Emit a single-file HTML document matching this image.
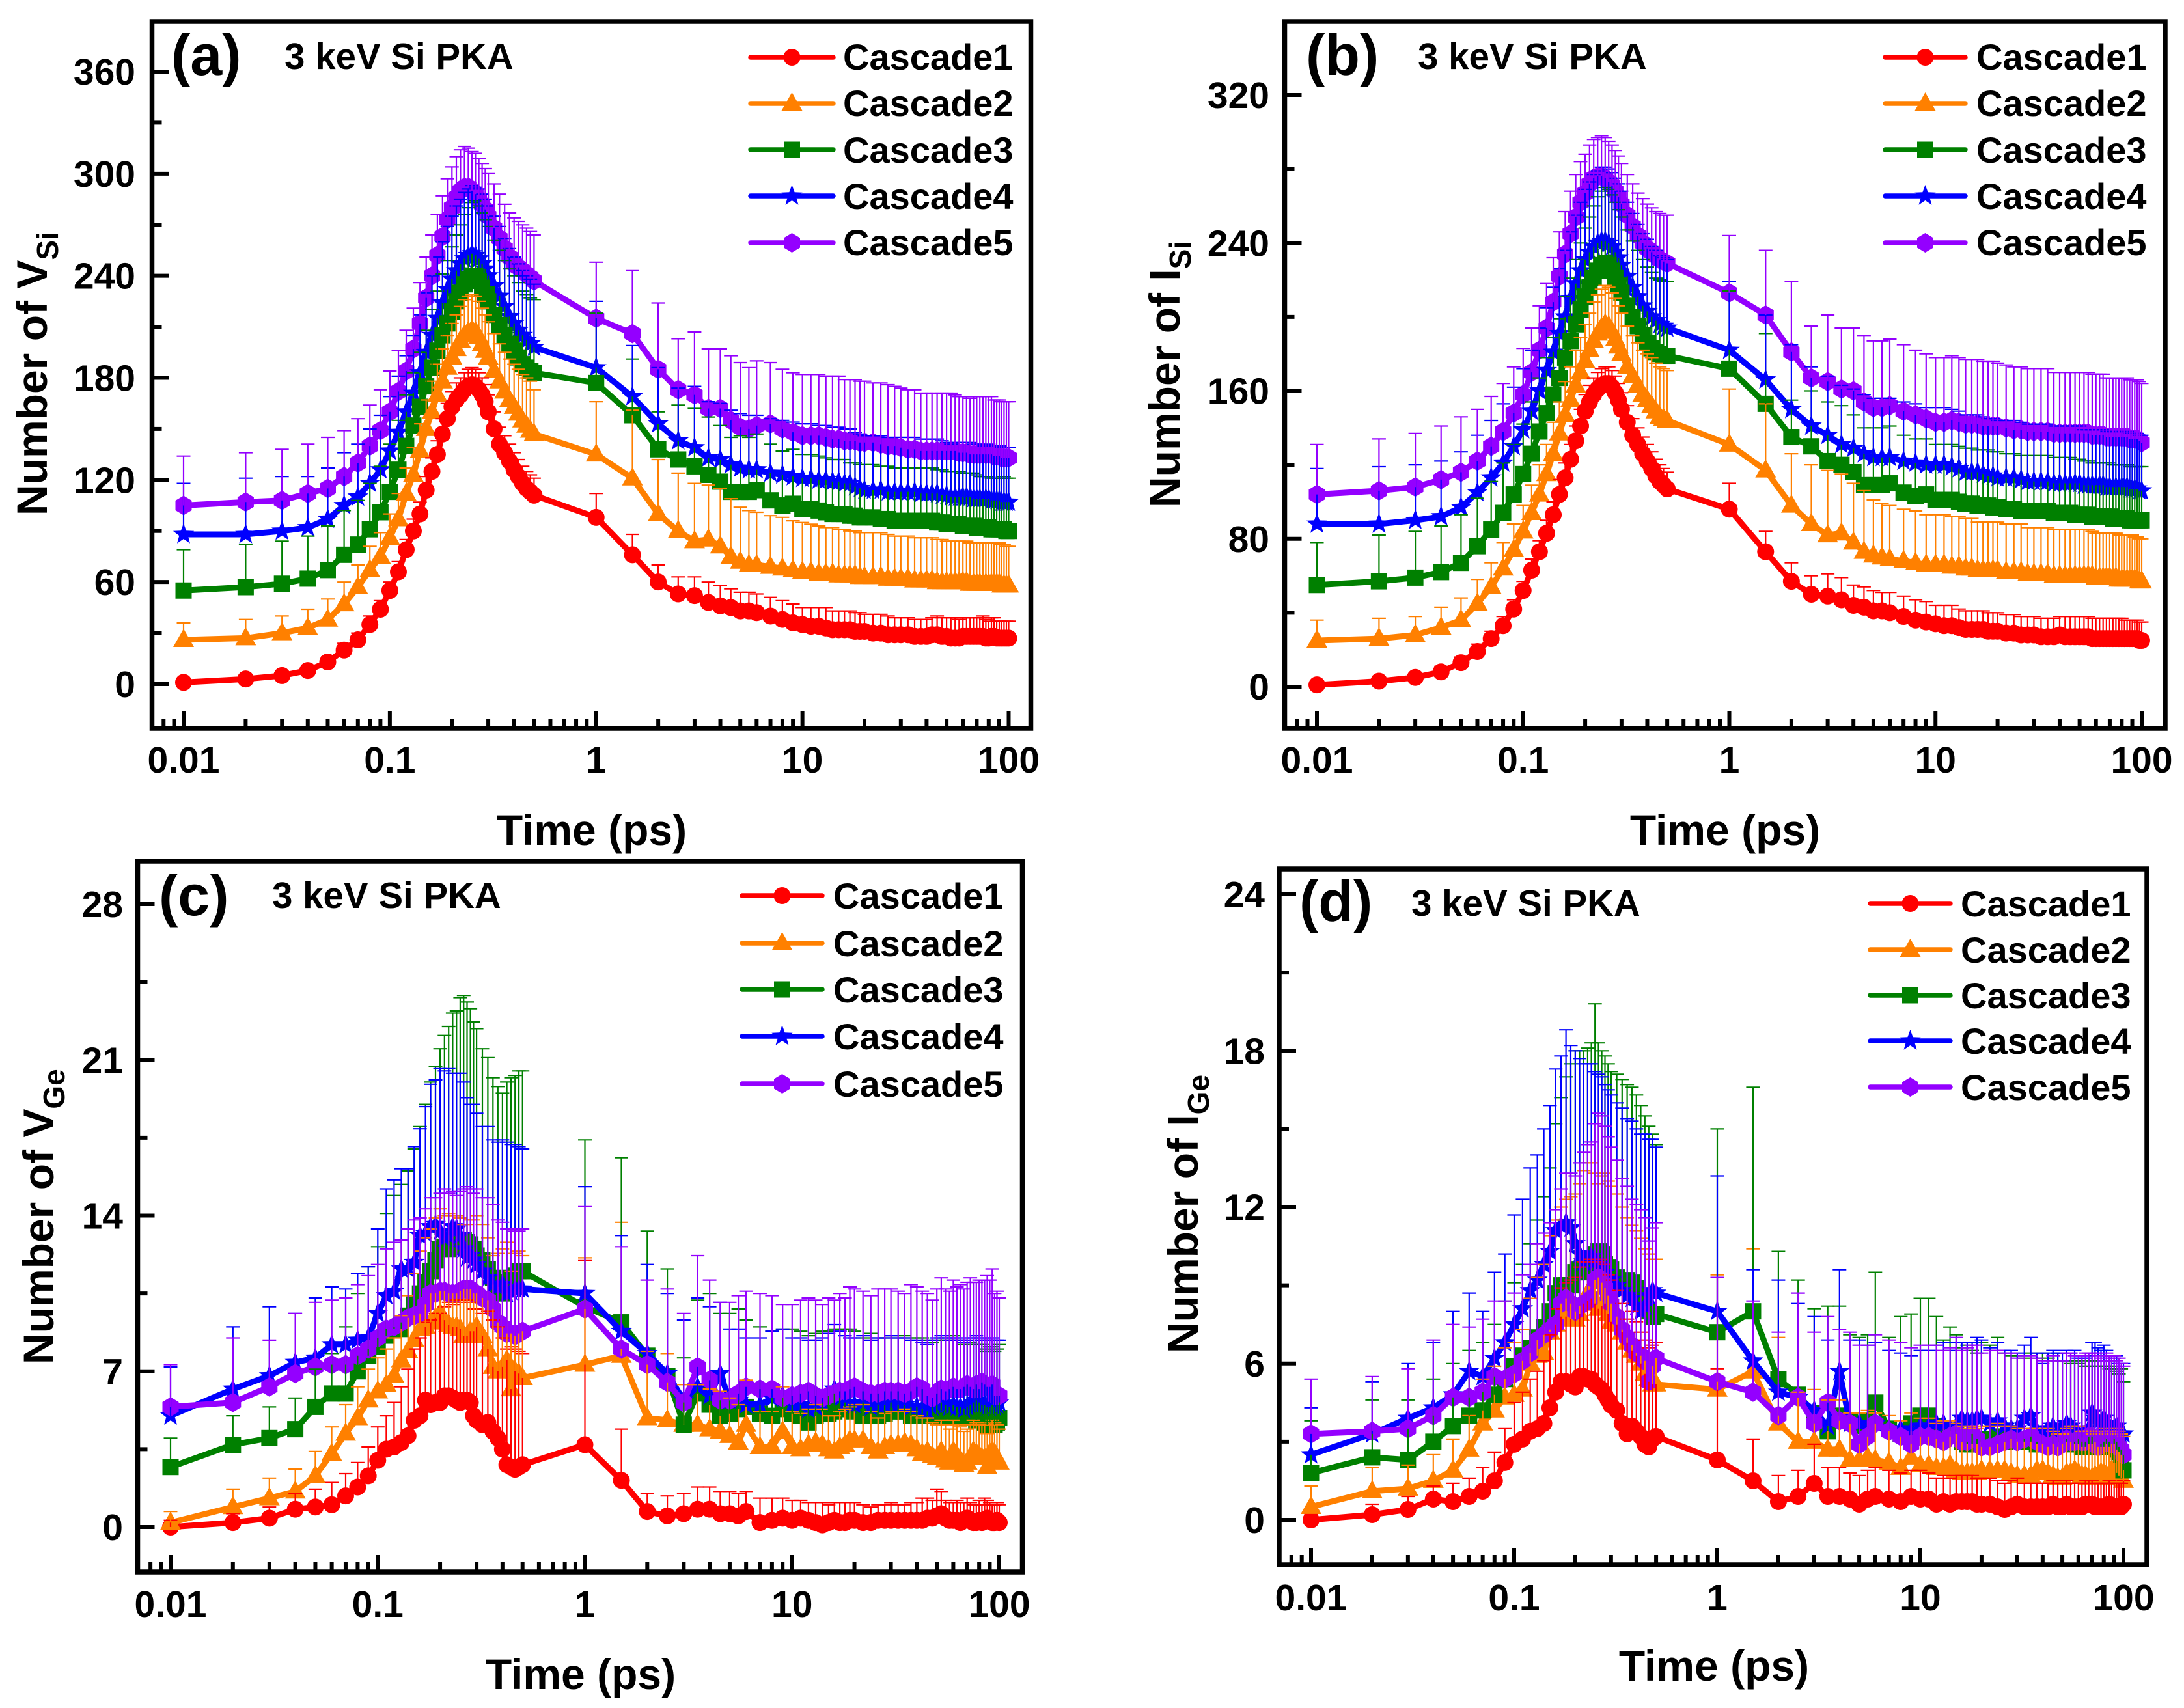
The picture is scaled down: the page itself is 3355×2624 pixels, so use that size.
<!DOCTYPE html>
<html lang="en">
<head>
<meta charset="utf-8">
<title>Number of defects vs time, 3 keV Si PKA</title>
<style>
html,body{margin:0;padding:0;background:#fff;}
svg{display:block;}
text{font-family:"Liberation Sans",Arial,sans-serif;font-weight:bold;fill:#000;}
.tick{font-size:57px;}
.axt{font-size:66px;}
.sub{font-size:46px;}
.plabel{font-size:88px;}
.note{font-size:56.5px;}
.leg{font-size:56px;}
</style>
</head>
<body>
<svg id="figure" xmlns="http://www.w3.org/2000/svg" width="3355" height="2624" viewBox="0 0 3355 2624">
<rect x="0" y="0" width="3355" height="2624" fill="#fff"/>

<g id="panel-a">
<g class="plot"></g>
<text class="plabel" x="263" y="115">(a)</text>
<text class="note" x="437" y="106">3 keV Si PKA</text>
<text class="axt" x="909" y="1298" text-anchor="middle">Time (ps)</text>
<text class="axt" transform="translate(72,792) rotate(-90)">Number of V<tspan class="sub" dy="17">Si</tspan></text>
<text class="leg" x="1295" y="107">Cascade1</text>
<text class="leg" x="1295" y="178">Cascade2</text>
<text class="leg" x="1295" y="250">Cascade3</text>
<text class="leg" x="1295" y="321">Cascade4</text>
<text class="leg" x="1295" y="392">Cascade5</text>
</g>

<g id="panel-b">
<g class="plot"></g>
<text class="plabel" x="2006" y="115">(b)</text>
<text class="note" x="2178" y="106">3 keV Si PKA</text>
<text class="axt" x="2650" y="1298" text-anchor="middle">Time (ps)</text>
<text class="axt" transform="translate(1812,780) rotate(-90)">Number of I<tspan class="sub" dy="17">Si</tspan></text>
<text class="leg" x="3036" y="107">Cascade1</text>
<text class="leg" x="3036" y="178">Cascade2</text>
<text class="leg" x="3036" y="250">Cascade3</text>
<text class="leg" x="3036" y="321">Cascade4</text>
<text class="leg" x="3036" y="392">Cascade5</text>
</g>

<g id="panel-c">
<g class="plot"></g>
<text class="plabel" x="244" y="1406">(c)</text>
<text class="note" x="418" y="1395">3 keV Si PKA</text>
<text class="axt" x="892" y="2595" text-anchor="middle">Time (ps)</text>
<text class="axt" transform="translate(82,2096) rotate(-90)">Number of V<tspan class="sub" dy="17">Ge</tspan></text>
<text class="leg" x="1280" y="1396">Cascade1</text>
<text class="leg" x="1280" y="1469">Cascade2</text>
<text class="leg" x="1280" y="1540">Cascade3</text>
<text class="leg" x="1280" y="1612">Cascade4</text>
<text class="leg" x="1280" y="1685">Cascade5</text>
</g>

<g id="panel-d">
<g class="plot"></g>
<text class="plabel" x="1996" y="1415">(d)</text>
<text class="note" x="2168" y="1407">3 keV Si PKA</text>
<text class="axt" x="2633" y="2582" text-anchor="middle">Time (ps)</text>
<text class="axt" transform="translate(1840,2079) rotate(-90)">Number of I<tspan class="sub" dy="17">Ge</tspan></text>
<text class="leg" x="3012" y="1408">Cascade1</text>
<text class="leg" x="3012" y="1479">Cascade2</text>
<text class="leg" x="3012" y="1549">Cascade3</text>
<text class="leg" x="3012" y="1619">Cascade4</text>
<text class="leg" x="3012" y="1690">Cascade5</text>
</g>
</svg>

<script>
// ---------- shared x data and tick labels ----------
const timeValues=[0.01,0.02,0.03,0.04,0.05,0.06,0.07,0.08,0.09,
0.10,0.11,0.12,0.13,0.14,0.15,0.16,0.17,0.18,0.19,0.20,0.21,0.22,0.23,0.24,0.25,0.26,0.27,0.28,0.29,0.30,
0.32,0.34,0.36,0.38,0.40,0.42,0.44,0.46,0.48,0.50,
1,1.5,2,2.5,3,3.5,4,4.5,5,5.5,
6,7,8,9,10,
11,12,13,14,15,16,17,18,19,20,
22,24,26,28,30,
32.5,35,37.5,40,42.5,45,47.5,50,52.5,55,57.5,60,62.5,65,67.5,70,72.5,75,77.5,80,82.5,85,87.5,90,92.5,95,97.5,100];
const xTickValues=[0.01,0.1,1,10,100];
const xTickLabels=['0.01','0.1','1','10','100'];
const xMinorValues=[0.008,0.009,0.02,0.03,0.04,0.05,0.06,0.07,0.08,0.09,0.2,0.3,0.4,0.5,0.6,0.7,0.8,0.9,2,3,4,5,6,7,8,9,20,30,40,50,60,70,80,90];

// ---------- panel (a) ----------
const aYTicks=[0,60,120,180,240,300,360];
const aYMinor=[30,90,150,210,270,330];
const aCascade1=[1,3,5,8,13,20,26,35,44,
55,66,79,90,100,114,125,135,147,156,163,167,170,173,175,176,175,173,170,166,160,
150,141,136,131,126,122,118,115,113,111,
98,76,60,53,52,48,46,45,43,43,
42,40,38,36,35,
34,34,33,32,32,32,32,31,31,31,
30,30,29,29,29,
29,28,28,28,29,29,28,28,27,27,27,28,28,28,28,28,28,28,27,27,28,28,27,27,27,27,27,27];
const aCascade1Err=[1,2,2,3,3,4,4,5,5,
5,6,6,7,7,8,8,8,9,9,9,10,10,10,10,10,10,10,10,10,10,
10,10,10,10,10,10,10,10,10,10,
14,12,10,10,11,12,12,11,11,11,
11,11,11,11,10,
11,11,12,11,11,11,11,11,11,10,
11,11,11,10,10,
10,10,10,10,10,11,11,11,12,12,11,11,11,11,11,11,11,12,11,10,11,11,10,10,10,10,10,10];
const aCascade2=[26,27,30,33,38,47,57,67,75,
86,97,112,123,137,150,160,170,178,186,192,197,202,205,207,208,207,204,200,196,192,
184,178,172,167,163,159,155,152,149,147,
135,121,100,90,84,85,81,75,72,70,
70,69,68,67,66,
66,65,65,65,64,64,64,64,63,63,
63,63,62,62,62,
62,61,61,61,61,60,60,60,60,60,60,60,60,59,59,59,59,59,59,59,59,59,59,59,58,58,58,58];
const aCascade2Err=[10,11,10,11,12,13,13,14,14,
14,15,15,16,16,17,18,18,19,19,20,20,20,21,21,21,21,21,21,21,21,
22,22,23,24,25,26,27,28,29,26,
31,40,32,34,34,32,34,34,32,32,
31,30,30,29,29,
28,28,27,27,27,27,26,26,26,26,
26,26,26,25,25,
25,25,25,25,25,25,25,24,24,24,24,24,24,24,24,24,24,24,24,24,24,24,24,24,24,24,23,23];
const aCascade3=[55,57,59,62,67,76,82,91,101,
113,126,140,152,163,175,186,196,205,212,219,225,230,235,238,240,240,237,233,229,225,
217,211,205,200,196,192,188,186,184,183,
177,158,138,132,128,123,119,113,113,113,
114,108,105,106,103,
103,102,101,100,100,100,99,99,98,98,
98,97,97,96,96,
96,96,96,96,96,95,95,94,94,94,94,93,93,93,93,92,92,92,92,92,91,91,91,91,91,91,90,90];
const aCascade3Err=[24,25,25,25,26,26,26,27,27,
28,29,30,31,32,33,34,35,36,37,38,39,40,41,42,43,44,44,44,44,44,
44,44,44,44,44,44,43,43,43,43,
41,33,22,32,34,34,33,32,33,32,
33,33,32,32,32,
32,32,32,32,32,32,31,31,31,31,
31,31,31,31,31,
31,31,31,31,31,31,31,31,31,31,31,31,31,31,31,31,30,30,30,30,30,30,30,30,30,31,31,31];
const aCascade4=[88,88,90,92,97,105,110,118,126,
137,148,160,171,183,195,205,215,224,232,238,243,247,250,252,253,252,250,247,244,240,
234,228,222,216,212,208,205,202,200,198,
186,169,153,143,139,133,132,129,127,126,
126,124,123,122,121,
121,120,120,119,119,118,118,116,115,114,
114,114,113,113,113,
113,113,112,112,112,112,111,111,110,110,110,110,110,110,109,109,109,109,109,109,108,108,108,108,107,107,107,107];
const aCascade4Err=[30,33,32,30,30,31,31,32,32,
32,33,33,34,34,35,35,36,36,37,37,38,38,39,39,40,40,41,41,41,41,
41,41,40,40,39,39,38,38,38,37,
39,30,33,31,36,33,33,32,32,32,
32,32,32,32,32,
32,32,32,32,32,32,32,32,32,32,
32,32,32,32,32,
32,32,32,32,32,32,32,31,31,32,32,32,32,32,32,32,32,31,31,32,32,32,32,32,32,32,32,32];
const aCascade5=[105,107,108,112,115,122,130,140,149,
160,172,184,197,212,227,240,252,263,273,280,286,290,292,292,290,288,285,282,279,275,
268,262,256,251,247,245,243,241,239,237,
215,206,185,173,170,162,162,155,151,150,
152,153,150,148,146,
146,146,145,144,144,143,143,143,142,142,
142,141,140,140,139,
138,138,137,137,137,137,137,137,137,137,136,136,136,135,135,135,135,135,135,135,135,134,134,134,133,133,133,133];
const aCascade5Err=[29,29,30,29,30,27,26,24,24,
24,24,24,24,24,24,24,24,24,24,24,24,24,24,23,23,24,24,24,24,25,
26,26,26,26,27,27,27,27,27,27,
33,37,39,30,37,35,35,38,38,36,
38,36,35,35,36,
36,36,36,37,37,36,36,36,36,36,
35,36,36,35,35,
35,35,34,34,34,34,34,34,34,33,33,33,33,33,34,34,34,34,34,34,34,33,33,33,33,33,33,33];

// ---------- panel (b) ----------
const bYTicks=[0,80,160,240,320];
const bYMinor=[40,120,200,280];
const bCascade1=[1,3,5,8,13,19,26,33,42,
52,63,73,83,93,104,113,123,133,141,149,154,158,161,163,164,164,162,159,155,150,
143,136,131,126,122,118,114,111,109,107,
96,73,57,50,49,47,44,43,41,41,
40,38,36,35,34,
33,33,32,31,31,31,31,30,30,30,
29,29,28,28,28,
27,27,27,28,27,27,27,27,27,27,26,26,26,26,26,26,26,26,26,26,26,26,26,26,26,26,25,25];
const bCascade1Err=[1,2,2,3,3,4,4,5,5,
5,6,6,7,7,8,8,8,8,9,9,9,9,9,9,9,9,9,9,9,9,
9,9,9,9,9,9,9,9,9,9,
14,11,10,10,12,12,11,11,11,10,
11,11,11,11,10,
11,11,10,10,10,10,10,10,10,10,
10,10,10,10,10,
10,10,10,10,11,11,11,11,11,11,11,11,11,11,11,11,11,11,11,11,10,10,10,10,10,10,10,10];
const bCascade2=[25,26,28,32,36,45,54,64,74,
84,94,104,115,126,137,147,155,163,170,176,182,187,191,194,196,195,192,188,184,180,
173,168,163,158,155,152,149,146,145,144,
131,117,98,88,82,83,78,73,71,70,
69,68,67,66,66,
66,65,65,64,64,63,63,63,63,63,
62,62,62,61,61,
61,61,60,60,60,60,60,60,60,60,60,59,59,59,59,59,59,59,58,58,58,58,58,58,58,58,57,57];
const bCascade2Err=[11,11,10,11,12,13,13,14,14,
14,15,16,16,17,17,18,18,19,19,20,20,21,21,21,21,21,21,22,22,22,
22,22,23,24,25,26,26,27,27,27,
30,36,28,32,35,32,32,33,30,29,
29,28,28,27,27,
27,27,27,27,27,26,26,26,26,26,
26,26,26,25,25,
25,25,25,25,25,25,25,25,25,25,24,24,24,24,24,24,24,24,24,24,24,24,24,24,23,23,23,23];
const bCascade3=[55,57,59,62,67,76,85,94,104,
115,126,138,148,158,167,178,187,196,204,211,216,221,225,228,229,228,225,221,217,213,
206,200,195,190,186,183,181,180,179,179,
172,153,135,130,122,120,116,109,109,109,
110,105,103,104,101,
101,101,100,99,99,98,98,98,97,97,
96,96,95,95,95,
95,95,94,94,94,94,93,93,93,93,92,92,92,92,92,92,91,91,91,91,91,91,90,90,90,90,90,90];
const bCascade3Err=[23,25,25,25,26,26,26,27,27,
27,28,29,30,31,32,33,34,35,36,37,38,39,40,40,41,41,41,41,41,41,
41,41,41,41,41,41,40,40,40,40,
42,38,20,30,32,32,31,31,31,31,
31,31,31,30,30,
30,30,30,30,30,30,30,30,30,30,
30,30,30,30,30,
30,30,30,30,30,30,30,30,29,29,29,29,29,29,29,29,29,29,29,29,29,29,29,29,29,29,29,29];
const bCascade4=[88,88,90,92,97,105,113,121,130,
139,149,160,171,181,191,200,210,218,225,231,235,238,240,241,241,240,238,235,232,228,
222,216,211,206,203,200,198,196,195,194,
182,166,150,141,136,131,129,126,124,124,
124,122,121,120,120,
120,119,118,116,116,116,115,114,114,113,
113,113,112,111,111,
111,111,110,110,110,110,110,110,109,109,109,109,109,109,108,108,108,108,108,108,108,108,107,107,107,107,106,106];
const bCascade4Err=[30,31,30,30,30,31,31,32,32,
33,33,34,34,35,35,36,36,37,37,38,38,39,39,40,40,40,40,40,40,40,
40,40,39,39,39,38,38,37,37,37,
37,35,35,32,32,32,32,32,32,32,
32,32,32,31,31,
31,31,31,31,31,31,31,31,31,31,
31,31,31,31,31,
31,31,31,31,31,31,31,31,30,30,30,30,30,30,30,30,30,30,30,30,30,30,30,30,30,30,30,30];
const bCascade5=[104,106,108,112,116,122,130,138,148,
158,170,182,194,208,222,234,245,254,262,267,272,275,276,276,275,273,271,268,265,261,
255,249,244,240,237,235,233,231,230,229,
213,201,181,167,165,161,160,154,151,151,
152,149,147,145,143,
143,144,143,142,142,142,141,141,141,141,
140,139,139,138,138,
138,138,137,137,137,137,137,137,137,137,136,136,136,136,135,135,135,135,135,135,135,135,134,134,134,134,133,132];
const bCascade5Err=[27,28,29,29,30,28,27,26,25,
25,24,24,24,24,24,23,23,23,22,21,21,21,21,22,22,22,22,22,22,22,
22,23,23,24,24,24,24,25,25,26,
31,35,38,28,36,33,34,36,36,36,
36,36,35,35,35,
35,35,35,35,35,35,35,35,35,34,
34,34,34,34,34,
34,34,33,33,33,33,33,33,33,33,33,33,33,33,32,32,32,32,32,32,32,32,32,32,32,32,32,32];

// ---------- panel (c) ----------
const cYTicks=[0,7,14,21,28];
const cYMinor=[3.5,10.5,17.5,24.5];
const cCascade1=[0,0.2,0.4,0.8,0.9,1,1.4,1.8,2.3,
3,3.5,3.6,3.8,4.1,4.8,5,5.7,5.5,5.6,5.6,5.9,5.9,5.8,5.7,5.6,5.7,5.7,5.6,5,4.8,
4.6,4.7,4.3,4,3.5,2.8,2.7,2.6,2.7,2.8,
3.7,2.1,0.7,0.5,0.6,0.8,0.8,0.6,0.6,0.5,
0.7,0.2,0.3,0.4,0.3,
0.4,0.3,0.2,0.1,0.2,0.3,0.2,0.2,0.3,0.3,
0.2,0.2,0.3,0.3,0.3,
0.3,0.3,0.3,0.3,0.3,0.4,0.4,0.5,0.6,0.4,0.3,0.3,0.3,0.2,0.3,0.4,0.3,0.2,0.2,0.3,0.2,0.3,0.4,0.3,0.2,0.2,0.3,0.2];
const cCascade1Err=[0.3,0.4,0.5,0.7,0.8,1,1,1.1,1.3,
1.5,1.5,2,2.5,3,3.2,3.5,3.5,3.8,4,4,4,4.2,4.2,4.5,4.5,4.5,4.5,4.5,4.8,5,
5,5,5,5,5,5.2,5.4,5.4,5.2,5,
8.3,2.3,0.8,0.9,0.9,1,1,1,1,1,
0.9,1.1,1,0.9,0.9,
0.8,0.8,0.9,1,0.8,0.8,0.9,0.9,0.8,0.8,
0.8,0.7,0.7,0.7,0.8,
0.7,0.7,0.8,0.8,1,0.9,0.8,1.2,1,0.8,0.8,0.8,0.9,0.9,0.8,0.9,0.8,0.8,0.8,0.9,0.8,1,0.8,0.8,0.8,0.8,0.8,0.8];
const cCascade2=[0.2,0.9,1.3,1.6,2.3,3.3,4.2,4.9,5.7,
6.1,6.4,6.8,7.5,7.9,8.4,8.9,9,9.2,9.4,9.6,9.3,9.1,9,9,8.9,8.6,8.6,8.8,8.8,9,
8.6,8,7.2,7,7.2,7.5,6.2,7,6.9,6.7,
7.3,7.7,4.9,4.8,4.6,4.6,4.4,4.3,4.1,3.8,
4.6,3.6,3.6,4.3,3.6,
3.5,3.7,3.8,3.7,3.5,3.4,3.6,3.7,3.9,3.9,
3.9,3.6,3.4,3.6,3.7,
3.7,3.8,3.7,3.5,3.3,3.4,3.2,3.1,3.4,3,2.9,3.4,3.2,3,2.8,2.9,3.1,3.4,3.3,3.2,3.1,3.1,2.7,3.3,3.4,3.3,3.1,2.9];
const cCascade2Err=[0.5,0.8,0.9,1,1.1,1.2,1.3,1.4,1.4,
1.5,1.6,1.7,2,2.5,3,3.5,4,4.2,4.5,4.7,4.7,5,5,5,5,5,5,5,5,5,
5,5,5,5.3,5.3,5.3,5.3,5.3,5.5,5.5,
4.8,6,3,3,1.8,1.8,1.8,1.8,1.7,1.7,
2,1.6,1.6,2,1.6,
1.6,1.6,1.7,1.6,1.5,1.6,1.6,1.6,1.5,1.6,
1.6,1.6,1.5,1.5,1.5,
1.5,1.5,1.5,1.5,1.6,1.5,1.5,1.5,1.4,1.6,1.5,1.4,1.4,1.5,1.5,1.5,1.5,1.4,1.4,1.4,1.5,1.5,1.5,1.4,1.4,1.4,1.5,1.5];
const cCascade3=[2.7,3.7,4,4.4,5.4,6,6,7,7.7,
8.1,8.6,8.9,8.9,9.5,10,10.5,11,11.5,12,12.5,12.6,12.5,12.6,12.7,12.8,12.9,12.8,12.7,12.5,12.2,
12,11.6,11.2,10.8,10.5,11,11.2,11.3,11.5,11.5,
9.9,9.2,7.7,6.8,4.6,6,5.5,5,5.1,5.3,
5.4,5.1,5,5.3,5.1,
5,4.7,5,5.2,5.1,5.2,5.3,5.4,5.3,5.2,
5,5.1,5,5.1,5.2,
5.2,5.2,5,5,5.1,5,5,5.1,5.2,5.1,5,5.2,5.1,5.1,5,4.9,5,4.9,4.8,4.9,4.8,4.7,4.6,4.7,4.8,4.6,4.7,4.9];
const cCascade3Err=[1.3,1.3,1.4,1.4,1.7,1.8,3,3.5,4,
4.5,5.5,6,6.5,6.5,7,7.5,8,8.5,8.7,9,9.5,10,10.5,10.5,11,11,10.8,10.6,10.2,10.2,
9.5,9.5,9,9,9,9,9,9,9,9,
7.5,7.4,5.6,4.8,3,4.2,5,4.6,4.5,4.5,
3.9,3.9,3.8,3.6,3.8,
3.8,3.9,3.7,3.6,3.7,3.7,3.6,3.5,3.6,3.6,
3.5,3.6,3.5,3.4,3.4,
3.3,3.4,3.5,3.5,3.4,3.4,3.3,3.3,3.3,3.3,3.4,3.4,3.3,3.3,3.2,3.3,3.3,3.3,3.4,3.3,3.4,3.3,3.3,3.4,3.3,3.3,3.3,3.3];
const cCascade4=[5,6.2,6.8,7.4,7.6,8.2,8.2,8.4,8.5,
9.6,10.4,10.6,11.6,11.6,11.9,13.1,13.2,13.5,13.6,13.3,13,13.1,13.5,13.4,13.1,12.5,12.1,12.2,12,11.8,
11.5,11.2,10.9,10.8,10.9,10.5,10.6,10.7,10.7,10.7,
10.5,8.8,7.8,6.9,5.7,6.3,5.9,6.9,5.7,5.7,
5.5,5.5,5.8,5.9,5.5,
5.5,5.3,5.4,5.6,5.9,6.2,5.8,5.6,5.5,5.5,
5.6,5.4,5.5,5.5,5.6,
5.5,5.5,5.4,5.4,5.3,5.2,5.4,5.5,5.6,5.5,5.4,5.5,5.4,5.4,5.3,5.4,5.5,5.6,5.7,5.6,5.5,5.5,5.4,5.4,5.5,5.4,5.5,5.6];
const cCascade4Err=[2.2,2.8,3.1,2.2,2.7,2.6,2.5,3,3.2,
3.8,4.8,5,4.5,4.5,5.2,4.8,5.7,6.4,6.5,7.3,7.5,7.5,6.9,7,7.3,7.5,7.2,6.8,7,6.8,
6.5,6.8,6.5,6.5,6.5,6.8,6.6,6.5,6.4,6.3,
4.8,4.3,4,3.6,3.6,4,4,3.2,3.2,3.2,
3,3,3,3,3,
3,3.1,3,2.9,2.8,2.9,3,3,3,3,
3,3,3,3,3,
3,3,3,3,3,3,3,3,3,3,3,3,3.1,3,3,3,3,2.9,2.9,2.9,2.9,3,3,3,3,3,2.9,2.8];
const cCascade5=[5.4,5.6,6.3,6.9,7.2,7.3,7.3,7.7,8,
8.5,8.9,9,9.2,9.4,9.5,9.6,10,10.5,10.5,10.6,10.6,10.5,10.5,10.5,10.6,10.7,10.7,10.7,10.5,10.5,
10.3,10.2,9.8,9.2,9,8.7,8.7,8.6,8.7,8.8,
9.8,8,7.3,6.5,5.6,7.2,6.6,5.7,5.7,6,
6.3,6.2,6.2,5.8,5.9,
6,6.1,5.9,5.8,5.9,6,6.1,6.1,6.2,6.3,
6.1,6,6,6.1,6.1,
6.1,6,6.1,6.3,6.2,5.9,5.8,6,6.2,6.1,6.2,6.3,6.2,6.2,6.3,6.4,6.3,6.2,6.4,6.2,6.5,6.4,6.3,6.3,6.4,5.9,5.9,5.9];
const cCascade5Err=[1.9,2.9,2.1,2.7,2.9,2.9,3,3.2,3.3,
3.3,3.6,3.8,3.7,4,4.3,4.3,4.3,4.3,4.3,4.4,4.6,4.5,4.6,4.4,4.5,4.5,4.6,4.5,4.5,4.7,
4.5,4.6,4.7,4.6,4.7,4.7,4.7,4.7,4.6,4.6,
4.6,4.6,3.8,4.2,4,5,4.5,4.4,4.4,4.4,
4.3,4.3,4.2,4.2,4.1,
4.2,4.2,4.3,4.2,4.4,4.2,4.4,4.2,4.6,4.4,
4.5,4.4,4.7,4.6,4.6,
4.5,4.5,4.8,4.5,4.4,4.6,4.4,4.7,5,4.6,4.4,4.8,4.6,4.7,4.4,4.6,4.9,4.8,4.6,4.9,4.6,4.7,5,4.8,5.2,4.6,4.7,4.4];

// ---------- panel (d) ----------
const dYTicks=[0,6,12,18,24];
const dYMinor=[3,9,15,21];
const dCascade1=[0,0.2,0.4,0.8,0.7,0.9,1.1,1.5,2.2,
2.9,3.1,3.4,3.5,3.7,4.3,4.9,5.3,5.3,5.2,5.1,5.5,5.5,5.4,5.4,5.2,5.1,5,4.8,4.6,4.4,
4.2,3.7,3.3,3.6,3.4,3.2,2.9,2.8,3.1,3.2,
2.3,1.5,0.7,0.9,1.4,0.9,0.9,0.8,0.6,0.8,
0.9,0.8,0.7,0.9,0.8,
0.8,0.6,0.7,0.6,0.7,0.7,0.7,0.7,0.6,0.6,
0.6,0.5,0.4,0.5,0.6,
0.5,0.5,0.5,0.5,0.5,0.6,0.5,0.5,0.6,0.5,0.5,0.5,0.5,0.6,0.6,0.6,0.5,0.5,0.5,0.5,0.5,0.6,0.5,0.5,0.5,0.5,0.5,0.6];
const dCascade1Err=[0.2,0.4,0.5,0.5,0.7,0.7,0.9,1.1,1.3,
1.6,1.8,2,2.2,2.4,2.8,3.2,3.6,3.8,4,4.2,4.2,4.4,4.5,4.6,4.8,4.8,5,5,4.8,4.8,
4.6,4.6,4.4,4.4,4.2,4,4,3.8,3.6,3.6,
3.5,1.6,1,1,1.5,1.1,1.1,1,1.1,1.1,
1.1,1.1,1.1,1,1.1,
1,1,1,1,1,1,1,1,1,1,
1,1,1,1,1,
0.9,0.9,0.9,0.9,0.9,0.9,0.9,0.9,0.9,0.9,0.9,0.9,0.9,0.9,0.9,0.9,0.9,0.9,0.9,0.9,0.9,0.9,0.9,0.9,0.9,0.9,0.9,0.9];
const dCascade2=[0.5,1.1,1.2,1.5,1.9,2.7,3.7,4.2,4.7,
4.8,5,6,6.3,6.4,7.2,7.5,7.8,7.8,7.7,7.7,7.9,8.4,8.7,8.7,8.3,8.1,8.2,8.3,7.9,7.6,
7.5,7.2,6.8,6.5,6.3,6,5.6,5.4,5.2,5.2,
5,5.7,3.7,3,3,2.7,2.7,2.3,2.3,2.4,
2.3,2.2,2,2.4,2.1,
2.1,2,2,2.1,1.9,1.8,1.8,1.8,1.8,1.9,
1.9,1.9,1.9,1.8,1.7,
1.7,1.7,1.9,1.9,1.8,1.7,1.6,1.6,1.8,1.8,1.9,1.8,1.7,1.7,1.6,1.6,1.7,1.7,1.8,1.8,1.7,1.6,1.9,1.9,1.8,1.7,1.6,1.5];
const dCascade2Err=[0.8,0.9,0.9,1,1.2,1.3,1.7,1.7,1.9,
2,2.3,2.5,3,3.4,3.7,4,4.2,4.5,4.7,4.8,5,5,5,5,5,4.8,5,5,5.1,5.2,
5,4.8,4.8,4.8,4.8,4.8,4.8,4.8,4.8,4.8,
4.4,4.7,3.3,1.9,2,1.9,1.9,1.8,1.8,1.8,
1.8,1.8,1.8,1.7,1.8,
1.8,1.7,1.8,1.7,1.8,1.8,1.7,1.8,1.7,1.7,
1.7,1.8,1.7,1.8,1.8,
1.8,1.8,1.6,1.6,1.7,1.7,1.7,1.7,1.7,1.8,1.7,1.8,1.7,1.7,1.8,1.7,1.6,1.7,1.6,1.7,1.6,1.7,1.5,1.6,1.7,1.7,1.7,1.7];
const dCascade3=[1.8,2.4,2.3,3,3.6,4,4.2,4.8,5.4,
5.9,6.3,6.6,7,7.4,8,8.7,9,9,9,9.5,9.6,9.5,9.7,9.9,10.2,10.3,10.2,9.8,9.7,9.6,
9.3,9.1,9.2,9.1,8.9,8.6,8.3,8,7.8,7.9,
7.2,8,5.4,4.8,4.1,3.4,4,3.8,3.6,3.8,
4.5,3.5,3.3,3.7,4,
4,3.6,3.4,3.4,3.3,3,2.9,2.9,2.9,3,
3.1,3.2,3,3.1,3.1,
3,3,2.9,2.9,3,2.9,3,3.1,3,3,2.9,2.9,2.8,2.8,2.9,2.9,3,2.9,2.8,2.8,2.9,2.8,2.9,2.9,2.7,2.6,2.5,1.9];
const dCascade3Err=[2,2.2,2.3,2.4,2.4,2.5,2.6,2.7,3,
3.2,3.5,4,4.5,5,5.5,6.5,7.2,8,8.5,8.5,8.4,8.5,8.4,8.4,9.6,8,7.8,8,7.8,7.6,
7.8,7.8,7.5,7.5,7.4,7.3,7.2,7.1,7,6.5,
7.8,8.6,4.9,4.4,4,4.8,4.2,3.3,3.4,3.3,
5,3.5,4.5,4.2,4.5,
4.5,4.2,3.5,4,3.8,3.6,3.8,3.6,3.5,3.8,
3.6,3.8,3.4,3.2,3.2,
3.2,3.4,3.3,3.5,3.2,3.2,3.4,3,3.1,3,3.2,3.1,3.3,3.1,3,3.2,3.1,3,3.1,3.3,3,3,3.2,3,3,3,3.3,3.4];
const dCascade4=[2.5,3.3,3.9,4.3,4.8,5.7,5.5,6.2,6.8,
7.5,8.1,8.8,9.2,9.8,10.3,11.1,11.3,11.4,11.2,10.6,10.2,9.9,10,10.1,9.9,9.8,9.7,9.5,9.3,9.2,
9,8.8,8.6,8.5,8.2,8,8.2,8.6,8.8,8.7,
8,6.1,4.9,4.7,4.2,3.6,5.7,3.7,3.7,3.5,
3.7,3.5,3.5,3.4,3.6,
3.6,3.7,3.7,3.5,3.6,3.9,3.8,3.8,3.9,3.9,
3.7,3.8,3.6,3.5,3.5,
3.9,4,3.4,3.2,3.5,3.6,3.4,3.5,3.7,3.6,3.4,3.3,3.2,3.3,3.5,4.1,3.9,3.8,3.6,3.9,3.7,3.6,3.5,3.4,3.6,3.3,3.2,3.3];
const dCascade4Err=[1.8,2,2.1,2.5,3.2,3,2.5,3.3,3.4,
4.2,4.2,4.7,4.8,5.2,5.6,6.2,6.5,7.4,7,7.4,7.5,7.6,7.5,7.4,7.3,7.3,7.3,7.2,7.2,7.1,
7,7,6.8,6.8,6.8,6.8,6.6,6,5.8,5.6,
5.2,3.5,4.3,3.6,3.6,3.3,3.9,3.2,3.2,3.2,
3.1,3,2.9,2.9,2.9,
2.9,3,3.1,3,3.2,2.9,3,3,3.1,3,
2.9,3,2.9,3,2.9,
2.8,3,3,2.8,2.9,2.9,3,2.9,2.8,2.8,3.1,2.9,3,2.9,2.8,2.7,2.9,2.8,2.9,2.8,2.8,2.7,2.8,2.8,2.7,2.7,2.8,2.7];
const dCascade5=[3.3,3.4,3.5,4,4.7,4.7,4.9,5.5,5.4,
5.6,6.1,6.4,6.9,7.1,7.3,7.5,8.3,8.5,8.3,8,8.2,8.3,8.4,8.5,9.2,9.3,9.1,8.9,8.6,8.3,
7.8,7.3,7,6.7,6.4,6.3,6.1,5.3,5.9,6.2,
5.3,4.9,4,4.7,3.7,4.5,3.8,3.7,2.9,3.2,
3.7,3.4,3.2,2.9,3.2,
3.2,3.1,3,3.2,3.3,3,3,3.3,3.1,2.8,
2.8,2.9,3,3.1,3,
3.1,3.2,3,2.9,2.8,2.9,2.8,2.9,3.1,3,3,3.1,3,3,3.2,3.2,3,2.8,2.9,3,3.1,3,2.9,3.1,3,2.8,2.7,2.5];
const dCascade5Err=[2.1,2.1,2.3,2.9,2.8,2.7,2.8,2.9,3,
3.1,3.3,3.4,3.7,3.9,4.1,4.4,4.4,4.8,5,5.2,5.5,5.8,6,6,6,6.3,6.4,6.2,6.1,6,
6,5.8,5.8,5.6,5.7,5.6,5.5,5.4,5.3,5.2,
4,3.5,3.2,4,3.5,3.3,3.5,3.5,3.8,3.5,
3.4,3.5,3.6,3.7,3.5,
3.5,3.6,3.5,3.4,3.7,3.5,3.6,3.4,3.6,3.6,
3.7,3.6,3.4,3.3,3.2,
3.2,3.1,3.2,3.2,3.3,3.4,3.3,3.2,3.3,3.4,3.3,3.2,3.3,3.4,3.2,3.2,3.4,3.5,3.3,3.1,3.3,3.3,3.4,3.2,3.1,3.4,3.3,3.4];

// ---------- layout ----------
const seriesColors=['#ff0000','#ff8000','#008000','#0000ff','#9400ff'];
const panelConfigs=[
 {key:'a',root:'panel-a',left:233.5,right:1583.5,top:33,bottom:1119,xLow:282,xHigh:1549.5,yZero:1051,yTopValue:360,yTopPx:110,yTicks:aYTicks,yMinor:aYMinor,xLabelBase:1187,yLabelRight:208,
  values:[aCascade1,aCascade2,aCascade3,aCascade4,aCascade5],errors:[aCascade1Err,aCascade2Err,aCascade3Err,aCascade4Err,aCascade5Err],order:[4,3,2,1,0],legX1:1150,legX2:1283,legY:[88,159,230,301,373]},
 {key:'b',root:'panel-b',left:1973.5,right:3326,top:33,bottom:1119,xLow:2023,xHigh:3290,yZero:1055,yTopValue:320,yTopPx:146,yTicks:bYTicks,yMinor:bYMinor,xLabelBase:1187,yLabelRight:1950,
  values:[bCascade1,bCascade2,bCascade3,bCascade4,bCascade5],errors:[bCascade1Err,bCascade2Err,bCascade3Err,bCascade4Err,bCascade5Err],order:[4,3,2,1,0],legX1:2893,legX2:3022,legY:[88,159,230,301,373]},
 {key:'c',root:'panel-c',left:211.5,right:1570.5,top:1323,bottom:2415,xLow:262,xHigh:1535,yZero:2346,yTopValue:28,yTopPx:1389,yTicks:cYTicks,yMinor:cYMinor,xLabelBase:2484,yLabelRight:189,
  values:[cCascade1,cCascade2,cCascade3,cCascade4,cCascade5],errors:[cCascade1Err,cCascade2Err,cCascade3Err,cCascade4Err,cCascade5Err],order:[0,1,2,3,4],legX1:1137,legX2:1266,legY:[1376,1449,1520,1592,1665]},
 {key:'d',root:'panel-d',left:1965,right:3298,top:1335,bottom:2404,xLow:2014,xHigh:3262,yZero:2335,yTopValue:24,yTopPx:1374,yTicks:dYTicks,yMinor:dYMinor,xLabelBase:2474,yLabelRight:1943,
  values:[dCascade1,dCascade2,dCascade3,dCascade4,dCascade5],errors:[dCascade1Err,dCascade2Err,dCascade3Err,dCascade4Err,dCascade5Err],order:[0,1,2,3,4],legX1:2870,legX2:2999,legY:[1388,1459,1529,1599,1670]}
];

const SVGNS='http://www.w3.org/2000/svg';
function make(tag,parent){
  const el=document.createElementNS(SVGNS,tag);
  parent.appendChild(el);
  return el;
}
function shapePoints(kind,cx,cy){
  const pts=[];
  if(kind===1){
    pts.push([cx,cy-17],[cx+16,cy+11],[cx-16,cy+11]);
  }else if(kind===3){
    for(let i=0;i<10;i++){
      const r=i%2===0?17:7;
      const a=-Math.PI/2+i*Math.PI/5;
      pts.push([cx+r*Math.cos(a),cy+r*Math.sin(a)]);
    }
  }else{
    pts.push([cx,cy-15],[cx+12.5,cy-7.5],[cx+12.5,cy+7.5],[cx,cy+15],[cx-12.5,cy+7.5],[cx-12.5,cy-7.5]);
  }
  return pts.map(p=>p[0].toFixed(1)+','+p[1].toFixed(1)).join(' ');
}
function drawMarker(parent,kind,cx,cy,color,name){
  let el;
  if(kind===0){
    el=make('circle',parent);
    el.setAttribute('cx',cx);
    el.setAttribute('cy',cy);
    el.setAttribute('r',13);
  }else if(kind===2){
    el=make('rect',parent);
    el.setAttribute('x',cx-12.5);
    el.setAttribute('y',cy-12.5);
    el.setAttribute('width',25);
    el.setAttribute('height',25);
  }else{
    el=make('polygon',parent);
    el.setAttribute('points',shapePoints(kind,cx,cy));
  }
  el.setAttribute('fill',color);
  
  
  return el;
}

function drawPanel(cfg){
  const plot=document.querySelector('#'+cfg.root+' .plot');
  const decade=(cfg.xHigh-cfg.xLow)/4;
  const xAxis=t=>cfg.xLow+Math.log10(t/0.01)*decade;
  const yAxis=v=>cfg.yZero-v*(cfg.yZero-cfg.yTopPx)/cfg.yTopValue;

  // series lines and markers
  cfg.order.forEach(s=>{
    const g=make('g',plot);
    
    
    const line=make('polyline',g);
    line.setAttribute('points',timeValues.map((t,i)=>xAxis(t).toFixed(1)+','+yAxis(cfg.values[s][i]).toFixed(1)).join(' '));
    line.setAttribute('fill','none');
    line.setAttribute('stroke',seriesColors[s]);
    line.setAttribute('stroke-width','9');
    line.setAttribute('stroke-linejoin','round');
    
    
    timeValues.forEach((t,i)=>{
      drawMarker(g,s,xAxis(t),yAxis(cfg.values[s][i]),seriesColors[s],'point-cascade'+(s+1));
    });
  });

  // error bars, drawn above the lines; later cascades cover earlier ones
  [0,1,2,3,4].forEach(s=>{
    const g=make('g',plot);
    
    
    timeValues.forEach((t,i)=>{
      const x=xAxis(t);
      const y0=yAxis(cfg.values[s][i]);
      const y1=yAxis(cfg.values[s][i]+cfg.errors[s][i]);
      const bar=make('path',g);
      bar.setAttribute('d','M'+x.toFixed(1)+' '+y0.toFixed(1)+'V'+y1.toFixed(1)+'M'+(x-10.5).toFixed(1)+' '+y1.toFixed(1)+'H'+(x+10.5).toFixed(1));
      bar.setAttribute('fill','none');
      bar.setAttribute('stroke',seriesColors[s]);
      bar.setAttribute('stroke-width','2.2');
      
      
    });
  });

  // axes
  const axes=make('g',plot);
  
  
  const tick=(x1,y1,x2,y2,w,name)=>{
    const l=make('line',axes);
    l.setAttribute('x1',x1);
    l.setAttribute('y1',y1);
    l.setAttribute('x2',x2);
    l.setAttribute('y2',y2);
    l.setAttribute('stroke','#000');
    l.setAttribute('stroke-width',w);
    
    
  };
  xTickValues.forEach((t,i)=>{
    const x=xAxis(t);
    tick(x,cfg.bottom,x,cfg.bottom-26,6,'x-major-tick');
    const lab=make('text',axes);
    lab.setAttribute('class','tick');
    lab.setAttribute('x',x);
    lab.setAttribute('y',cfg.xLabelBase);
    lab.setAttribute('text-anchor','middle');
    lab.textContent=xTickLabels[i];
    
    
  });
  xMinorValues.forEach(t=>{
    const x=xAxis(t);
    tick(x,cfg.bottom,x,cfg.bottom-15,6,'x-minor-tick');
  });
  cfg.yTicks.forEach(v=>{
    const y=yAxis(v);
    tick(cfg.left,y,cfg.left+26,y,6,'y-major-tick');
    const lab=make('text',axes);
    lab.setAttribute('class','tick');
    lab.setAttribute('x',cfg.yLabelRight);
    lab.setAttribute('y',y+20);
    lab.setAttribute('text-anchor','end');
    lab.textContent=String(v);
    
    
  });
  cfg.yMinor.forEach(v=>{
    const y=yAxis(v);
    tick(cfg.left,y,cfg.left+15,y,6,'y-minor-tick');
  });

  const frame=make('rect',plot);
  frame.setAttribute('x',cfg.left);
  frame.setAttribute('y',cfg.top);
  frame.setAttribute('width',cfg.right-cfg.left);
  frame.setAttribute('height',cfg.bottom-cfg.top);
  frame.setAttribute('fill','none');
  frame.setAttribute('stroke','#000');
  frame.setAttribute('stroke-width','7.5');
  
  

  // legend keys
  const legend=make('g',plot);
  
  
  seriesColors.forEach((color,s)=>{
    const y=cfg.legY[s];
    const l=make('line',legend);
    l.setAttribute('x1',cfg.legX1+3);
    l.setAttribute('y1',y);
    l.setAttribute('x2',cfg.legX2-3);
    l.setAttribute('y2',y);
    l.setAttribute('stroke',color);
    l.setAttribute('stroke-width','7.5');
    l.setAttribute('stroke-linecap','round');
    
    
    drawMarker(legend,s,(cfg.legX1+cfg.legX2)/2,y,color,'legend-marker-cascade'+(s+1));
  });
}
panelConfigs.forEach(drawPanel);
</script>
</body>
</html>
